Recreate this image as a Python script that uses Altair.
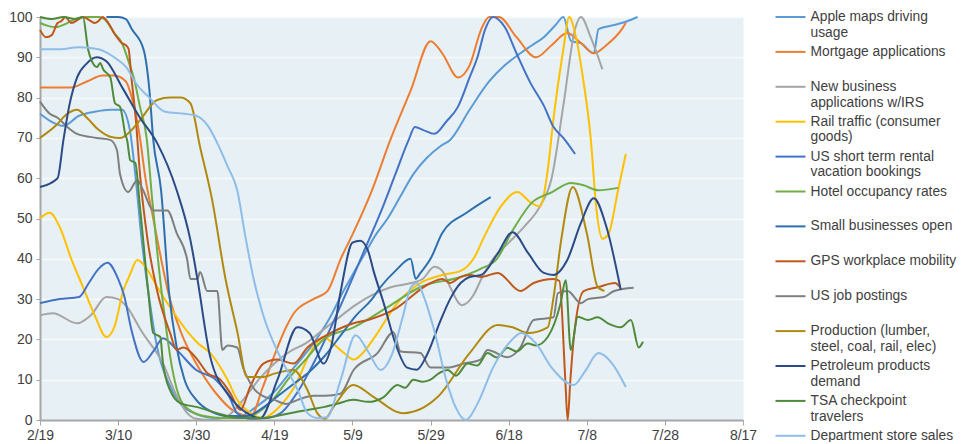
import json
import altair as alt
import pandas as pd

# x = days since 2/19 ; y = index value
TICK_DAYS = [0, 20, 40, 60, 80, 100, 120, 140, 160, 180]
TICK_LABELS = ["2/19", "3/10", "3/30", "4/19", "5/9", "5/29", "6/18", "7/8", "7/28", "8/17"]

SERIES = [
    "Apple maps driving usage",
    "Mortgage applications",
    "New business applications w/IRS",
    "Rail traffic (consumer goods)",
    "US short term rental vacation bookings",
    "Hotel occupancy rates",
    "Small businesses open",
    "GPS workplace mobility",
    "US job postings",
    "Production (lumber, steel, coal, rail, elec)",
    "Petroleum products demand",
    "TSA checkpoint travelers",
    "Department store sales",
]
LEGEND_LINES = [
    ["Apple maps driving", "usage"],
    ["Mortgage applications"],
    ["New business", "applications w/IRS"],
    ["Rail traffic (consumer", "goods)"],
    ["US short term rental", "vacation bookings"],
    ["Hotel occupancy rates"],
    ["Small businesses open"],
    ["GPS workplace mobility"],
    ["US job postings"],
    ["Production (lumber,", "steel, coal, rail, elec)"],
    ["Petroleum products", "demand"],
    ["TSA checkpoint", "travelers"],
    ["Department store sales"],
]
COLORS = ["#5B9BD5", "#ED7D31", "#A5A5A5", "#FFC000", "#4472C4", "#70AD47",
          "#2E6FAE", "#C0571B", "#7F7F7F", "#B08A10", "#2B4A86", "#4E8A3A", "#8DBDE8"]

apple = [(0,76),(3,74),(6,73),(10,75.5),(14,76.5),(18,77),(21,77),(23,72),(24.5,60),(26,45),(28,30),
         (30,18),(33,9),(36,4),(40,1.5),(45,0.5),(50,0.5),(55,3),(60,7),(65,13),(70,19),(74,25),
         (77.7,32),(80,36),(83,41),(86,46),(89,50),(92,55),(95.6,61),(99,65),(102.6,68),(105,69.5),
         (110,77),(115,84),(119,88),(123,91),(126,93),(129,95),(132,98),(134,100),(136,94),
         (138.5,93.5),(141.8,91),(143,97),(147,98),(150.5,99),(153,100)]
mortgage = [(0,82.5),(5,82.5),(8,82.5),(12,84),(16,85.5),(19,85.5),(22,84),(23.5,80),(25.6,70),(27,60),
            (29,50),(31,40),(33,31),(36,22),(40,14),(45,6.7),(50,2),(54,1),(57,8),(60,16),(63,23),
            (65,26.5),(70,30),(73.6,32),(77,40),(80,46),(85,57),(89.7,69.5),(95,82),(100,94),(103,91),
            (107,85),(110,88),(113,97),(115,100),(117.5,100),(122,95),(127,90),(131,93),(135,96),
            (138,94),(141.8,91),(145,93),(149,97),(150,98.5)]
new_business = [(0,26),(3.3,26.5),(9.5,24),(13,26),(17,30.5),(20,30),(22.3,28),(26,22),(31.5,14),
                (35,6),(37.7,1.7),(40,0.3),(44,0),(48,1),(52,5),(56,10),(60,14),(64,17),(68,19),
                (72,22),(76,25),(80,28),(85,31),(90,33),(95,34),(98,35),(101,38),(103,37),(105,33),
                (108,28.5),(111,31),(113,35),(116,40),(120,44),(124,48),(128,53),(131,60),(134,78),
                (137,97),(138.5,100),(141,95),(144,87)]
rail = [(0,50),(2.5,51.4),(5,48),(8,40),(11,33),(14,26),(17,20.6),(19,23),(21.3,32),(23,36),(24.9,39.7),
        (27,38),(30,33),(34,27),(37.7,22),(40.5,19),(43.6,16.6),(48,10),(50.5,5),(53.5,2),(57,0.5),
        (61,3),(65,8),(70,18),(72.6,20.6),(75,19),(78,16.5),(80.3,15),(83,17),(86,21),(91.5,29),
        (97.4,34),(103,36),(107.7,37),(111,40),(114,46),(118,53),(122.2,56.6),(125.6,54),(128,53),
        (130,62),(131.5,75),(134,92),(135.5,100),(137,96),(139,85),(141,70),(142.5,52),(144,45),
        (145.5,46),(148,57),(150,66)]
rental = [(0,29),(5,30),(10,30.5),(12.5,34),(15,37.5),(17.3,39),(20,35),(21.5,31),(23.5,22),(26.5,14.4),
          (29,17),(31.5,20.3),(35,17.4),(40,12.4),(45,10),(48.5,5.7),(50.5,1.7),(54,0.3),(58,0.5),
          (62,2),(66,7),(70,14),(74,22),(78.6,32),(83,42),(87,51),(91,61),(94.4,69.5),(96,72.7),
          (98,72),(101,71),(104,74),(107,77.7),(110,85),(112,90),(114,97),(116,100),(119,97.5),
          (122,91),(125.6,83.6),(129,78),(131.5,72.7),(134,70),(137,66)]
hotel = [(0,98.5),(2,97.8),(4,97.5),(7,98.5),(9,99.5),(12,100),(15,100),(17,99),(19,96),(21,93.5),
         (23,88),(24,85),(25.6,77.7),(27.3,70),(28.7,55),(30.2,40),(32,25),(34,12),(36,5),(39,2),
         (42,1),(47,0.5),(52,0.5),(56,2),(60,5.5),(64,10.7),(68,15),(72.6,20),(80.3,23),(89,28),
         (97.4,33),(107.7,35.5),(112.8,37.5),(117,40),(121,47),(126,54),(131,56.5),(136,58.8),
         (139,58.3),(143,57),(148,57.6)]
small_biz = [(17,100),(20,100),(22,99.5),(23.5,97),(26.5,92),(28,82),(29,69.5),(31,57),(33,32),(35,18),
             (37,10),(40,5),(44,2),(48,1),(53,1),(57,3),(61,6),(65,9),(69,12),(73,16),(77,21),(81,26),
             (85,30),(87.2,33),(91,37),(94.9,40),(96.2,35),(97.4,36.5),(100,40),(103,46.4),(109.5,51.6),
             (115.4,55.3)]
gps = [(0,96.8),(1.5,95),(3,95.5),(4.5,98.5),(5.5,99),(6.5,100),(8,98.5),(10,99.5),(11,100),(13,99),
       (14,98.5),(15,99),(16,100),(17.5,98.5),(19,96),(21,93.5),(22,93),(22.7,92),(23.4,85),(24.5,75),
       (25.6,61),(27.5,45),(30,32),(33.3,21.6),(35,17.4),(36.7,18),(40.3,15),(42.8,11.7),(46.2,10),
       (48.7,6.7),(51.3,2.5),(53.8,8.2),(57.2,14),(60.8,15),(64.9,14),(68.5,18),(72.6,20.6),(80.3,24),
       (84.6,25),(90.5,27.3),(100,34),(103,35),(105,34),(107.7,35.5),(110,36),(113,35.5),(117.2,36.5),
       (123,32),(126.4,34),(131.5,35),(133,34.5),(134.5,10),(135.1,0),(135.8,10),(136.7,20.6),
       (139.2,32),(143,33),(147.2,34),(148.5,33)]
job_postings = [(0,79),(2.5,76),(4.5,75),(7,72.7),(9.5,71),(14.5,70),(18,69.5),(19.7,67),(20.5,61),
                (22.6,56.6),(24.9,59.5),(26.4,57),(29,52),(32.6,52),(35,46.4),(37.7,39.7),(38.5,35),
                (40.3,35),(41,36.7),(42.8,32),(45.4,32),(46.7,17.4),(48,18.5),(50.5,18),(52,13),(53,10.7),
                (55,7.5),(57,6),(60,5),(63,4),(66,5),(70,6),(73,6),(76.9,6.5),(80.3,12.4),(86.4,16.6),
                (90.5,21.8),(92.3,17),(97.4,16.6),(100,13),(104.4,13),(108.5,14),(112.8,15),(114.6,17.4),
                (119.7,15.6),(123,18),(126.4,24.8),(131.5,25.5),(132.6,31.5),(135.1,32),(138.5,29),
                (140.3,30),(144.4,30.5),(147,32),(152,32.8)]
production = [(0,70),(4,73),(7,76),(9.5,77),(12,75),(15,72),(18,70.3),(20.5,70),(23,71.5),(25.6,74.4),
              (30,79.4),(33.3,80),(35.9,80),(38.5,78.6),(41,67.7),(44,55),(47.5,35),(50.5,22),(53,10.7),
              (57.2,10.7),(60,11.5),(64.9,12.4),(68.5,7.4),(71,1.7),(73,0.3),(75,3),(80.3,8.7),(85,6),
              (93,1.7),(101.8,5.7),(110,16.6),(117.2,23.6),(121,23),(124.9,21.6),(130,23),(131.5,30.5),
              (133.5,45),(136.4,57.8),(140,46.4),(142.8,33),(144.5,32)]
petroleum = [(0,57.8),(4.5,60),(6,69.5),(7.5,78),(9.5,85),(12,88.5),(14.5,90),(17,89),(21,82.6),
             (25.6,75),(30,68.7),(35,57),(38.5,44.7),(40.3,35),(43.6,15.6),(48.7,5.7),(53,1.7),
             (56.4,0.5),(60.8,10),(65.9,23),(69,21.6),(72.6,14),(74.5,18),(77,32),(80,44),(82,44.5),
             (84,42),(85.4,37),(88,29),(91,19),(94,13),(96.5,12.5),(99,16),(102.6,24.8),(105,30),
             (107.7,34),(110,35.5),(113,36),(117,41),(121,46.6),(125,41.4),(129,36.5),(131.5,36),
             (135,39.7),(138.5,48.9),(141.8,55),(145,48),(148.7,32.3)]
tsa = [(0,100),(3,99.5),(6,100),(9,99.5),(11,100),(12.3,92),(13.3,89),(14.6,87.6),(15.4,88.6),
       (16.2,87),(18,85),(19.2,78.6),(20.5,77.7),(21,75.7),(21.8,71),(22.3,69.5),(23.1,64.5),
       (24.4,63.8),(25.6,52.9),(27.7,32),(29,21.6),(30.8,20.6),(31.5,14),(33.3,7.4),(35.9,4.2),
       (40.3,3.2),(45.4,1.7),(51,0.5),(57,0.5),(64,1.7),(68.5,2.5),(72.6,3.2),(76,4),(80.3,5),
       (84,4.5),(88,5.7),(91.5,8.7),(93.5,8),(95.6,10),(98,9.5),(100,10),(102,11.5),(104.4,12.4),
       (106.5,11),(109.5,14),(112,13.5),(114.6,16.6),(117,15.5),(119.7,17.9),(122,17),(124.9,19),
       (127,18.5),(130,20.6),(133.3,29),(134.6,34.7),(135.9,17.4),(137.7,25.6),(140.3,24.8),
       (142.8,25.5),(145.4,24),(148.7,23),(151.3,24.8),(153.3,18),(154.4,19.4)]
dept_store = [(0,92),(5,92),(10,92.5),(15,92),(19,90),(22,87.6),(25,83),(28,80),(32,76.5),(37,76),
              (40,75.5),(43,73),(45.4,68.7),(48,63),(50.5,57),(52.5,46),(54.7,35),(57,26.5),(61.5,15.6),
              (66,7.4),(68.5,1.7),(71,0.5),(73.5,0.7),(77,10),(80.8,21),(84,17),(87.2,12.4),(90,16),
              (93,26),(95,33),(96.5,34),(98.5,30),(101,22),(104,10),(106.5,3),(109,0),(112,4),(116,13),
              (120,19),(123.3,21.6),(127,19),(131,13),(136.7,8.7),(139.5,12),(143,16.6),(146.5,14),
              (150,8.2)]

SERIES_DATA = [apple, mortgage, new_business, rail, rental, hotel, small_biz, gps,
               job_postings, production, petroleum, tsa, dept_store]

rows = []
for name, pts in zip(SERIES, SERIES_DATA):
    for d, v in pts:
        rows.append({"series": name, "day": d, "value": v})
df = pd.DataFrame(rows)

label_expr = " : ".join(
    f"datum.label === {json.dumps(n)} ? {json.dumps(l)}" for n, l in zip(SERIES, LEGEND_LINES)
) + " : datum.label"
tick_expr = json.dumps(TICK_LABELS) + "[round(datum.value / 20)]"

FONT = "Liberation Sans"

chart = alt.Chart(df).mark_line(strokeWidth=2, interpolate="monotone").encode(
    x=alt.X("day:Q", scale=alt.Scale(domain=[0, 180], nice=False),
            axis=alt.Axis(values=TICK_DAYS, labelExpr=tick_expr, title=None, grid=False,
                          labelFlush=False, domainColor="#A6A6A6", domainWidth=2,
                          tickColor="#A6A6A6", tickSize=5, labelPadding=3)),
    y=alt.Y("value:Q", scale=alt.Scale(domain=[0, 100], nice=False),
            axis=alt.Axis(values=list(range(0, 101, 10)), title=None, grid=True,
                          gridColor="#F7FAFB", gridWidth=1.5, domainColor="#A6A6A6",
                          domainWidth=2, tickColor="#A6A6A6", tickSize=4, labelPadding=4)),
    color=alt.Color("series:N", scale=alt.Scale(domain=SERIES, range=COLORS),
                    legend=alt.Legend(title=None, orient="none", legendX=742, legendY=-8.5,
                                      symbolType="M-2,0H2", symbolSize=225, symbolStrokeWidth=2,
                                      labelExpr=label_expr, labelFont=FONT, labelFontSize=13.8,
                                      labelColor="#404040", labelLimit=400, labelOffset=11.5,
                                      labelBaseline="middle", gridAlign="all", rowPadding=2.9,
                                      padding=0)),
    order=alt.Order("day:Q"),
).properties(
    width=703, height=403,
    autosize=alt.AutoSizeParams(type="none"),
    padding={"left": 32, "top": 9, "right": 214, "bottom": 22},
).configure_view(
    fill="#E7F0F4", strokeOpacity=0
).configure_axis(
    labelFont=FONT, labelFontSize=14, labelColor="#404040"
)

chart.save("out.html", embed_options={"renderer": "svg", "actions": False})
